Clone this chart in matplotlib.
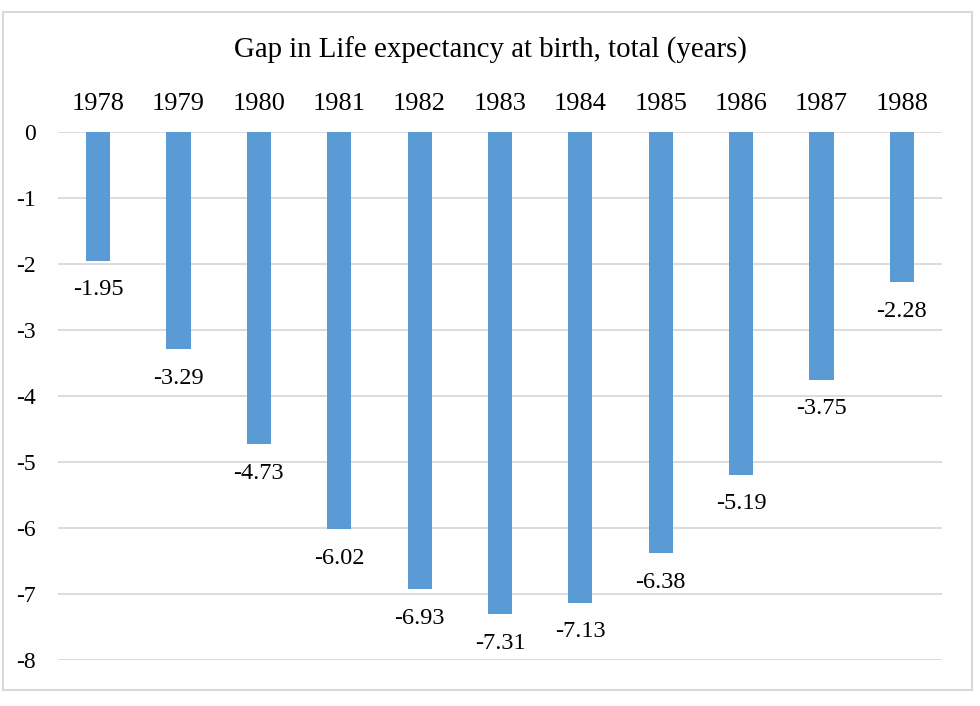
import matplotlib
matplotlib.use("Agg")
import matplotlib.pyplot as plt
from matplotlib.patches import Rectangle

years = ["1978", "1979", "1980", "1981", "1982", "1983", "1984", "1985", "1986", "1987", "1988"]
gap = [-1.95, -3.29, -4.73, -6.02, -6.93, -7.31, -7.13, -6.38, -5.19, -3.75, -2.28]
title = "Gap in Life expectancy at birth, total (years)"

plt.rcParams['font.family'] = ['Liberation Serif', 'DejaVu Serif']

fig = plt.figure(figsize=(9.8, 7.06), dpi=100)
ax = fig.add_axes([58/980, 1-660/706, 884/980, 528/706])

x = list(range(len(years)))
ax.bar(x, gap, width=0.3, color="#5B9BD5", zorder=3)
ax.set_xlim(-0.5, len(years)-0.5)
ax.set_ylim(-8, 0)
ax.set_yticks(range(-8, 1))
ax.set_yticklabels([str(v) for v in range(-8, 1)], fontsize=17)
ax.yaxis.grid(True, color="#D9D9D9", linewidth=1.3, zorder=0)
ax.set_xticks(x)
ax.set_xticklabels(years, fontsize=19)
ax.xaxis.tick_top()
ax.tick_params(axis='x', length=0, pad=12)
ax.tick_params(axis='y', length=0, pad=16)
for s in ax.spines.values():
    s.set_visible(False)

for xi, v in zip(x, gap):
    ax.annotate(f"{v:.2f}", (xi, v), xytext=(0, -13.5), textcoords="offset points",
                ha="center", va="top", fontsize=17.5)

fig.text(0.5, 1-50/706, title, ha="center", va="center", fontsize=20.8)
fig.patches.append(Rectangle((3/980, 1-690/706), 969/980, 678/706, transform=fig.transFigure,
                             fill=False, edgecolor="#D9D9D9", linewidth=1.5))
fig.savefig("out.png", dpi=100)
